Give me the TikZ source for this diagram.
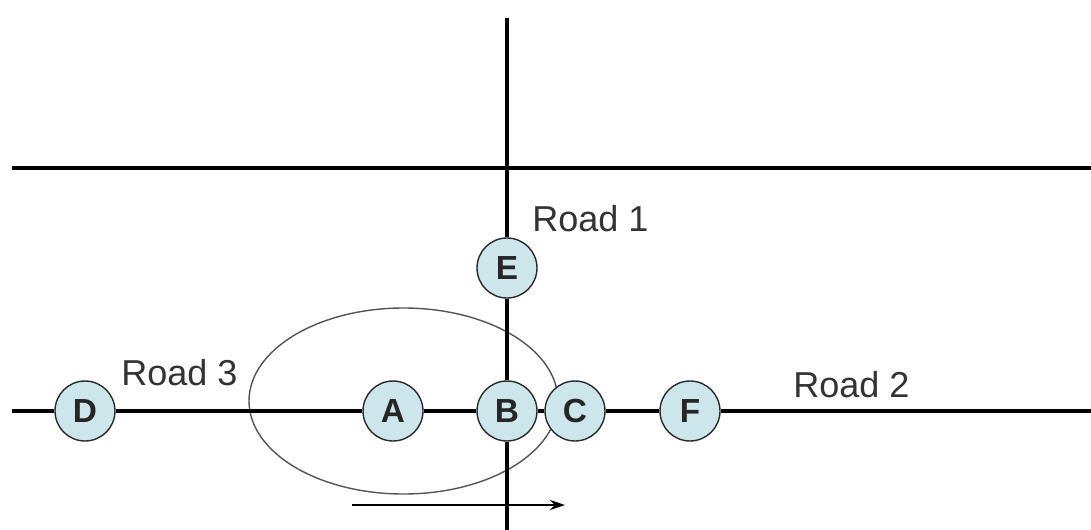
\documentclass[tikz,border=0pt]{standalone}
\usepackage{fontspec}
\setmainfont{Liberation Sans}
\usepackage{xcolor}
\usetikzlibrary{arrows.meta,positioning}
\definecolor{stop}{HTML}{CDE6EC}
\definecolor{rim}{HTML}{2A2A2A}
\definecolor{zone}{HTML}{555555}

\begin{document}
\begin{tikzpicture}[x=0.02cm, y=-0.02cm,
    stn/.style={circle, draw=rim, line width=0.8pt, fill=stop, minimum size=1.2cm, inner sep=0pt, font=\fontsize{19}{19}\selectfont\bfseries, text=black!85},
    road/.style={line width=2.2pt, black},
    lbl/.style={font=\fontsize{20.5}{20.5}\selectfont, text=black!80, anchor=base west, inner sep=0pt}
]
\useasboundingbox (0,0) rectangle (1091,530);
% area around the junction
\draw[zone, line width=0.8pt] (403.5,401) ellipse [x radius=154.5, y radius=93];
% stops
\node[stn] (D) at (85,411) {D};
\node[stn] (A) at (393,411) {A};
\node[stn] (B) at (507,411) {B};
\node[stn] (C) at (575,411) {C};
\node[stn] (F) at (690,411) {F};
\node[stn] (E) at (507,268) {E};
% road ends
\coordinate (W) at (12,411);
\coordinate (Ea) at (1091,411);
\coordinate (N) at (507,18);
\coordinate (S) at (507,530);
\coordinate (T1) at (12,168);
\coordinate (T2) at (1091,168);
\coordinate (m1) at (352,505);
\coordinate (m2) at (565,505);
% roads
\draw[road] (W) -- (D);
\draw[road] (D) -- (A);
\draw[road] (A) -- (B);
\draw[road] (B) -- (C);
\draw[road] (C) -- (F);
\draw[road] (F) -- (Ea);
\draw[road] (N) -- (E);
\draw[road] (E) -- (B);
\draw[road] (B) -- (S);
\draw[road] (T1) -- (T2);
% direction
\draw[-{Stealth[length=3mm, width=2mm]}, line width=1.5pt] (m1) -- (m2);
% labels
\node[lbl] (r1) at (532,232) {Road 1};
\node[lbl] (r3) at (121,385) {Road 3};
\node[lbl] (r2) at (793,397) {Road 2};
\end{tikzpicture}
\end{document}
